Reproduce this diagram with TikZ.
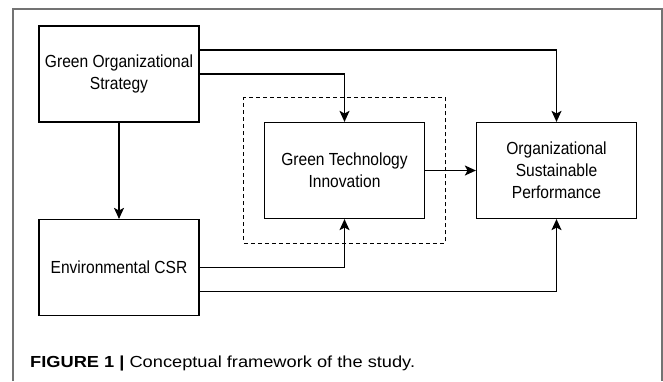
\documentclass[tikz,border=0pt]{standalone}
\usepackage{fontspec}
\usepackage{tikz}
\usetikzlibrary{calc,arrows.meta,fit}
\newfontfamily\boxfont[FakeStretch=0.89]{Liberation Sans}
\newfontfamily\capfont[FakeStretch=1.14]{Liberation Sans}

\begin{document}
\begin{tikzpicture}[x=1pt,y=-1pt,
			box/.style={draw,line width=1.2pt,minimum width=160pt,minimum height=96pt,align=center,
				font={\boxfont\fontsize{17.5}{22}\selectfont}},
			arr/.style={line width=1.2pt,-{Stealth[length=11pt,width=10pt,inset=2.5pt]}},
			medbox/.style={draw,dashed,line width=1pt,dash pattern=on 4pt off 3pt,inner xsep=20pt,inner ysep=24pt},
			frame/.style={draw=black!55,line width=1.5pt}]
			\useasboundingbox (0,0) rectangle (663,381);
			\draw[frame] (13,381) |- (662,9) -- (662,381);

			\node[box] (gos) at (119,74) {Green Organizational\\Strategy};
			\node[box] (ecsr) at (119,267.5) {Environmental CSR};
			\node[box] (gti) at (344.5,170.5) {Green Technology\\Innovation};
			\node[box] (osp) at (556.5,170.5) {Organizational\\Sustainable\\Performance};
			\node[medbox,fit=(gti)] (med) {};

			\draw[arr] ([yshift=24pt]gos.east) -| (osp.north);
			\draw[arr] (gos.east) -| (gti.north);
			\draw[arr] (gos) -- (ecsr);
			\draw[arr] (gti) -- (osp);
			\draw[arr] (ecsr.east) -| (gti.south);
			\draw[arr] ([yshift=-24pt]ecsr.east) -| (osp.south);

			\node[anchor=base west,inner sep=0pt,font={\capfont\fontsize{16}{18}\selectfont}] (cap) at (30,367.5)
				{\textbf{FIGURE 1 |} Conceptual framework of the study.};
\end{tikzpicture}
\end{document}
